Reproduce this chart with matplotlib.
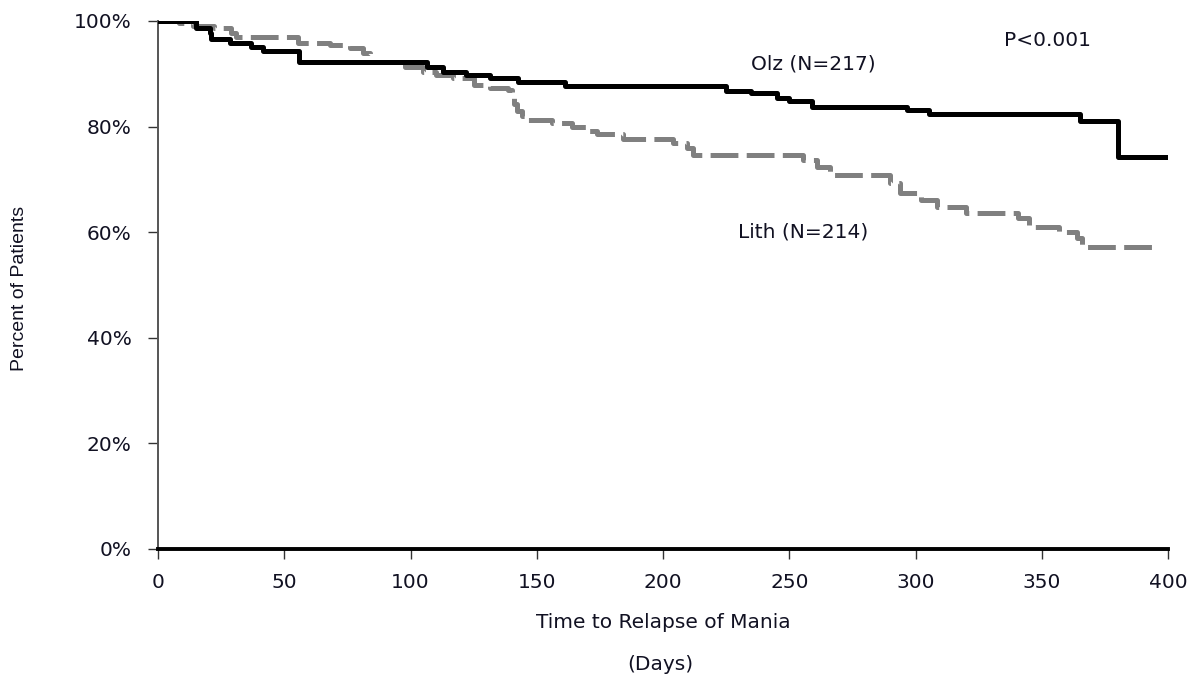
import matplotlib.pyplot as plt

plt.rcParams['font.family'] = ['DejaVu Sans']
plt.rcParams['lines.scale_dashes'] = False

# Kaplan-Meier step data (day, percent)
olz_days = [0, 15, 20.5, 21, 28.5, 37, 41.5, 56, 106.5, 113, 122, 131.5, 142.5,
            161, 225, 235, 245, 250, 259, 296.5, 305.5, 365, 380, 400]
olz_pct = [100, 98.6, 97.7, 96.5, 95.8, 95.0, 94.3, 92.3, 91.3, 90.4, 89.8, 89.2,
           88.5, 87.6, 86.8, 86.3, 85.4, 84.8, 83.8, 83.1, 82.3, 81.0, 74.3, 74.3]

lith_days = [0, 8.5, 14, 22, 29, 31, 55.5, 68, 76, 81, 84, 98, 105, 110, 117, 125,
             131.5, 138.5, 140, 141, 142, 144, 146.5, 156, 164, 170, 174, 184, 204,
             209.5, 212, 255.5, 261, 266, 290, 294, 302, 308.5, 320, 340.5, 345,
             357, 364, 366, 395]
lith_pct = [100, 99.6, 99.0, 98.6, 97.7, 97.0, 95.9, 95.4, 94.9, 93.9, 92.3, 91.3,
            90.4, 89.8, 89.2, 87.9, 87.3, 86.9, 85.5, 84.2, 83.0, 82.0, 81.2, 80.7,
            80.0, 79.2, 78.6, 77.6, 76.9, 75.9, 74.6, 73.7, 72.3, 70.8, 69.3, 67.4,
            66.1, 64.8, 63.7, 62.7, 61.0, 60.0, 58.9, 57.2, 57.2]

yticks = [0, 20, 40, 60, 80, 100]
xticks = [0, 50, 100, 150, 200, 250, 300, 350, 400]
txt = '#111122'
fs = 14.5

fig = plt.figure(figsize=(11.93, 6.77), dpi=100)
ax = fig.add_axes([158 / 1193, 1 - 549 / 677, (1168 - 158) / 1193, (549 - 21) / 677])

ax.step(lith_days, lith_pct, where='post', color='#808080', lw=3.6,
        dashes=(20, 6), solid_capstyle='butt', zorder=2)
ax.step(olz_days, olz_pct, where='post', color='black', lw=3.6, zorder=3)

ax.set_xlim(0, 400)
ax.set_ylim(0, 100)
ax.set_xticks(xticks)
ax.set_yticks(yticks)
ax.set_yticklabels([f'{t}%' for t in yticks])

for s in ['top', 'right']:
    ax.spines[s].set_visible(False)
ax.spines['left'].set_color('#555555')
ax.spines['left'].set_linewidth(1.4)
ax.spines['bottom'].set_color('black')
ax.spines['bottom'].set_linewidth(2.8)
ax.spines['bottom'].set_zorder(4)
ax.tick_params(axis='both', direction='out', length=7, width=1, color='#333333',
               labelsize=fs, labelcolor=txt)
ax.tick_params(axis='y', pad=12)
ax.tick_params(axis='x', pad=10)

fig.text(663 / 1193, 1 - 623 / 677, 'Time to Relapse of Mania', ha='center', va='center',
         fontsize=fs, color=txt)
fig.text(660 / 1193, 1 - 664 / 677, '(Days)', ha='center', va='center',
         fontsize=fs, color=txt)
fig.text(20 / 1193, 1 - 288 / 677, 'Percent of Patients', rotation=90, ha='center',
         va='center', fontsize=14, color=txt, family='Liberation Sans')

ax.text(259.4, 91.9, 'Olz (N=217)', ha='center', va='center', fontsize=fs, color=txt)
ax.text(255.4, 60.0, 'Lith (N=214)', ha='center', va='center', fontsize=fs, color=txt)
ax.text(352.3, 96.4, 'P<0.001', ha='center', va='center', fontsize=fs, color=txt)

fig.savefig('out.png', dpi=100)
